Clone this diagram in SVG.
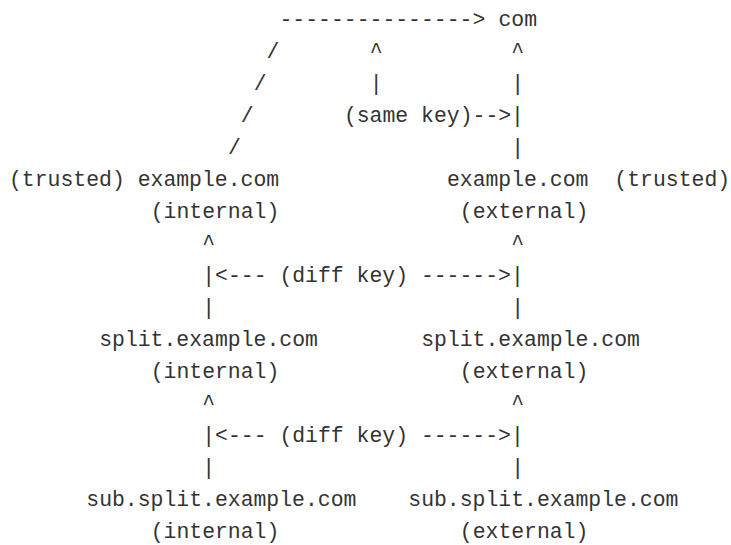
<svg xmlns="http://www.w3.org/2000/svg" width="731" height="545" viewBox="0 0 731 545">
  <style>
    text { font-family: "Liberation Mono", "DejaVu Sans Mono", monospace; font-size: 21.45px; fill: #333333; white-space: pre; }
  </style>
  <rect width="731" height="545" fill="#ffffff"/>

  <!-- ASCII connectors: slashes, carets, pipes and key arrows -->
  <g id="connectors">
    <text x="279.48" y="25.5">---------------&gt;</text>
    <text x="266.6" y="57.5">/</text>
    <text x="369.64" y="57.5">^</text>
    <text x="511.32" y="57.5">^</text>
    <text x="253.72" y="89.5">/</text>
    <text x="369.64" y="89.5">|</text>
    <text x="511.32" y="89.5">|</text>
    <text x="240.84" y="121.5">/</text>
    <text x="343.88" y="121.5">(same key)--&gt;|</text>
    <text x="227.96" y="153.5">/</text>
    <text x="511.32" y="153.5">|</text>

    <text x="202.2" y="249.5">^</text>
    <text x="511.32" y="249.5">^</text>
    <text x="202.2" y="281.5">|&lt;--- (diff key) ------&gt;|</text>
    <text x="202.2" y="313.5">|</text>
    <text x="511.32" y="313.5">|</text>

    <text x="202.2" y="409.5">^</text>
    <text x="511.32" y="409.5">^</text>
    <text x="202.2" y="441.5">|&lt;--- (diff key) ------&gt;|</text>
    <text x="202.2" y="473.5">|</text>
    <text x="511.32" y="473.5">|</text>
  </g>

  <g id="com">
    <text x="498.44" y="25.5">com</text>
  </g>

  <g id="example-internal">
    <text x="9" y="185.5">(trusted) example.com</text>
    <text x="150.68" y="217.5">(internal)</text>
  </g>

  <g id="example-external">
    <text x="446.92" y="185.5">example.com</text>
    <text x="614.36" y="185.5">(trusted)</text>
    <text x="459.8" y="217.5">(external)</text>
  </g>

  <g id="split-internal">
    <text x="99.16" y="345.5">split.example.com</text>
    <text x="150.68" y="377.5">(internal)</text>
  </g>

  <g id="split-external">
    <text x="421.16" y="345.5">split.example.com</text>
    <text x="459.8" y="377.5">(external)</text>
  </g>

  <g id="sub-split-internal">
    <text x="86.28" y="505.5">sub.split.example.com</text>
    <text x="150.68" y="537.5">(internal)</text>
  </g>

  <g id="sub-split-external">
    <text x="408.28" y="505.5">sub.split.example.com</text>
    <text x="459.8" y="537.5">(external)</text>
  </g>
</svg>
